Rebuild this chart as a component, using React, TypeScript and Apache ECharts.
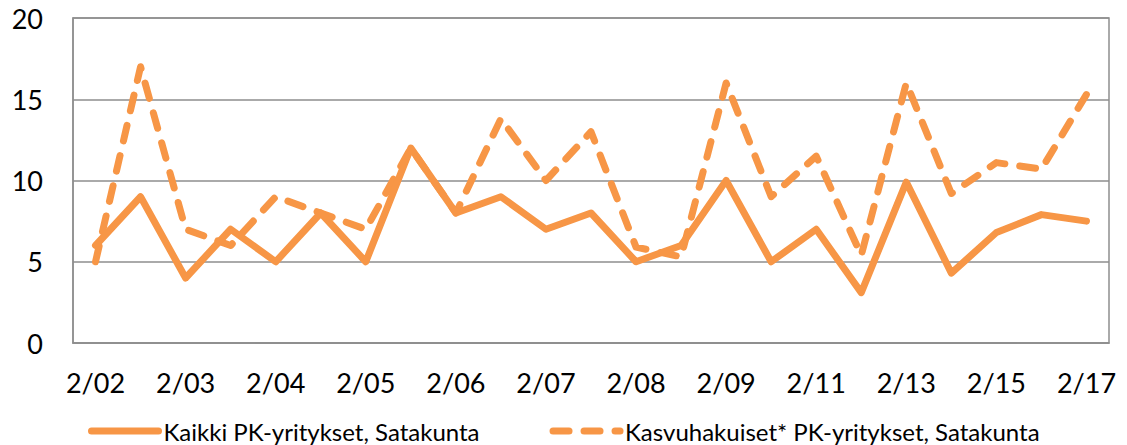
import React, { useEffect, useRef } from "react";
import * as echarts from "echarts";

const categories = [
  "2/02", "1/03", "2/03", "1/04", "2/04", "1/05", "2/05", "1/06", "2/06", "1/07",
  "2/07", "1/08", "2/08", "1/09", "2/09", "2/10", "2/11", "2/12", "2/13", "2/14",
  "2/15", "2/16", "2/17",
];
const seriesNames = [
  "Kaikki PK-yritykset, Satakunta",
  "Kasvuhakuiset* PK-yritykset, Satakunta",
];
const allSme = [6, 9, 4, 7, 5, 8, 5, 12, 8, 9, 7, 8, 5, 6, 10, 5, 7, 3.1, 9.9, 4.3, 6.8, 7.9, 7.5];
const growthSme = [5, 17, 7, 6, 9, 8, 7, 12, 8, 13.8, 10, 13, 5.9, 5.3, 16, 9, 11.5, 5.4, 16, 9.2, 11.1, 10.7, 15.3];

const ORANGE = "#F79646";
const GRAY = "#8E8E8E";
const FONT = "Lato";

export default function App() {
  const ref = useRef<HTMLDivElement>(null);
  useEffect(() => {
    if (!ref.current) return;
    const chart = echarts.init(ref.current, undefined, { renderer: "svg" });
    chart.setOption({
      animation: false,
      grid: {
        left: 73,
        right: 18,
        top: 18,
        bottom: 102,
        show: true,
        borderColor: GRAY,
        borderWidth: 1.5,
      },
      legend: {
        left: 88,
        top: 418,
        padding: 0,
        itemGap: 70,
        itemWidth: 67,
        itemHeight: 8,
        itemStyle: { opacity: 0 },
        lineStyle: { width: 7, cap: "round" },
        textStyle: { fontFamily: FONT, fontSize: 24, color: "#000", lineHeight: 26 },
        data: seriesNames,
      },
      xAxis: {
        type: "category",
        boundaryGap: true,
        data: categories,
        axisTick: { show: false },
        axisLine: { lineStyle: { color: GRAY, width: 1.5 } },
        axisLabel: {
          interval: 1,
          fontFamily: FONT,
          fontSize: 27,
          color: "#000",
          margin: 26,
        },
      },
      yAxis: {
        type: "value",
        min: 0,
        max: 20,
        interval: 5,
        axisLine: { show: true, lineStyle: { color: GRAY, width: 1.5 } },
        axisTick: { show: false },
        splitLine: { lineStyle: { color: GRAY, width: 1.5 } },
        axisLabel: {
          fontFamily: FONT,
          fontSize: 27,
          color: "#000",
          margin: 30,
        },
      },
      series: [
        {
          name: seriesNames[1],
          type: "line",
          data: growthSme,
          symbol: "none",
          lineStyle: { color: ORANGE, width: 7, type: [16, 15], cap: "round", join: "round" },
          itemStyle: { color: ORANGE },
        },
        {
          name: seriesNames[0],
          type: "line",
          data: allSme,
          symbol: "none",
          lineStyle: { color: ORANGE, width: 7, cap: "round", join: "round" },
          itemStyle: { color: ORANGE },
        },
      ],
    });
    return () => chart.dispose();
  }, []);
  return (
    <div
      ref={ref}
      style={{ position: "fixed", left: 0, top: 0, width: 1127, height: 445, background: "#fff" }}
    />
  );
}
